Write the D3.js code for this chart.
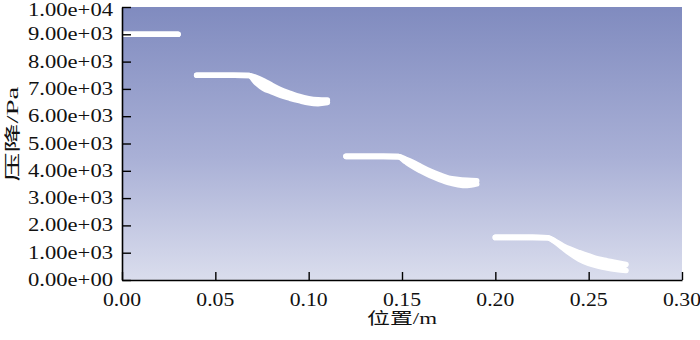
<!DOCTYPE html>
<html>
<head>
<meta charset="utf-8">
<script src="https://cdn.jsdelivr.net/npm/d3@7/dist/d3.min.js"></script>
<style>
  html, body { margin: 0; padding: 0; background: #ffffff; }
  svg { display: block; }
  text { font-family: "Liberation Serif", "DejaVu Serif", serif; fill: #111111; }
</style>
</head>
<body>
<svg id="chart" width="700" height="340"></svg>
<script>
// ---- data ----
const xTickValues = [0.00, 0.05, 0.10, 0.15, 0.20, 0.25, 0.30];
const xTickLabels = ["0.00", "0.05", "0.10", "0.15", "0.20", "0.25", "0.30"];
const yTickValues = [0, 1000, 2000, 3000, 4000, 5000, 6000, 7000, 8000, 9000, 10000];
const yTickLabels = ["0.00e+00", "1.00e+03", "2.00e+03", "3.00e+03", "4.00e+03", "5.00e+03",
                     "6.00e+03", "7.00e+03", "8.00e+03", "9.00e+03", "1.00e+04"];

const seg1X   = [0.00, 0.01, 0.02, 0.03];
const seg1Top = [9000, 9000, 9000, 9000];
const seg1Bot = [9000, 9000, 9000, 9000];

const seg2X   = [0.04, 0.05, 0.06, 0.068, 0.072, 0.076, 0.08, 0.085, 0.09, 0.095, 0.10, 0.105, 0.11];
const seg2Top = [7500, 7500, 7500, 7490, 7410, 7290, 7140, 6970, 6840, 6720, 6640, 6600, 6590];
const seg2Bot = [7500, 7500, 7500, 7490, 7220, 7010, 6900, 6760, 6660, 6570, 6490, 6460, 6500];

const seg3X   = [0.12, 0.13, 0.14, 0.148, 0.152, 0.156, 0.16, 0.165, 0.17, 0.175, 0.18, 0.185, 0.19];
const seg3Top = [4530, 4530, 4530, 4520, 4420, 4300, 4160, 3990, 3850, 3730, 3680, 3650, 3630];
const seg3Bot = [4530, 4530, 4530, 4520, 4330, 4150, 4000, 3830, 3690, 3570, 3490, 3460, 3520];

const seg4X   = [0.20, 0.21, 0.22, 0.228, 0.232, 0.236, 0.24, 0.245, 0.25, 0.255, 0.26, 0.265, 0.27];
const seg4Top = [1560, 1560, 1560, 1550, 1420, 1260, 1130, 1000, 880, 770, 700, 630, 570];
const seg4Bot = [1560, 1560, 1560, 1550, 1400, 1190, 980, 760, 610, 510, 440, 390, 350];

const xLabel = "位置/m";
const yLabel = "压降/Pa";

// ---- layout ----
const svg = d3.select("#chart");
const pLeft = 122, pRight = 682, pTop = 7, pBottom = 280;

const x = d3.scaleLinear().domain([0, 0.30]).range([pLeft, pRight]);
const y = d3.scaleLinear().domain([0, 10000]).range([pBottom, pTop]);

// background gradient
const defs = svg.append("defs");
const grad = defs.append("linearGradient").attr("id", "bg")
  .attr("x1", 0).attr("y1", 0).attr("x2", 0).attr("y2", 1);
grad.append("stop").attr("offset", "0%").attr("stop-color", "#808bbf");
grad.append("stop").attr("offset", "55%").attr("stop-color", "#a9b0d6");
grad.append("stop").attr("offset", "100%").attr("stop-color", "#dadded");

svg.append("rect")
  .attr("x", pLeft).attr("y", pTop)
  .attr("width", pRight - pLeft).attr("height", pBottom - pTop)
  .attr("fill", "url(#bg)");

// data bands
const segments = [
  [seg1X, seg1Top, seg1Bot],
  [seg2X, seg2Top, seg2Bot],
  [seg3X, seg3Top, seg3Bot],
  [seg4X, seg4Top, seg4Bot]
];

const area = d3.area()
  .x(d => x(d.x)).y0(d => y(d.lo)).y1(d => y(d.hi))
  .curve(d3.curveMonotoneX);
const lineHi = d3.line().x(d => x(d.x)).y(d => y(d.hi)).curve(d3.curveMonotoneX);
const lineLo = d3.line().x(d => x(d.x)).y(d => y(d.lo)).curve(d3.curveMonotoneX);

const gData = svg.append("g");
segments.forEach(([xs, hi, lo]) => {
  const pts = xs.map((v, i) => ({ x: v, hi: hi[i], lo: lo[i] }));
  gData.append("path").attr("d", area(pts)).attr("fill", "#ffffff")
    .attr("stroke", "#ffffff").attr("stroke-width", 1);
  [lineHi, lineLo].forEach(ln => {
    gData.append("path").attr("d", ln(pts))
      .attr("fill", "none").attr("stroke", "#ffffff")
      .attr("stroke-width", 5.6)
      .attr("stroke-linecap", "round").attr("stroke-linejoin", "round");
  });
});

// axes
const xAxis = d3.axisBottom(x).tickValues(xTickValues)
  .tickSizeInner(-8).tickSizeOuter(0).tickFormat("");
const yAxis = d3.axisLeft(y).tickValues(yTickValues)
  .tickSizeInner(-9).tickSizeOuter(0).tickFormat("");

const gx = svg.append("g").attr("transform", `translate(0,${pBottom})`).call(xAxis);
const gy = svg.append("g").attr("transform", `translate(${pLeft},0)`).call(yAxis);
[gx, gy].forEach(g => {
  g.select(".domain").attr("stroke", "#000").attr("stroke-width", 1.6);
  g.selectAll(".tick line").attr("stroke", "#000").attr("stroke-width", 1.4);
});

// tick labels
svg.append("g").selectAll("text").data(xTickValues).join("text")
  .attr("x", d => x(d)).attr("y", 306)
  .attr("text-anchor", "middle")
  .attr("font-size", 18)
  .attr("textLength", 38).attr("lengthAdjust", "spacingAndGlyphs")
  .text((d, i) => xTickLabels[i]);

svg.append("g").selectAll("text").data(yTickValues).join("text")
  .attr("x", 113).attr("y", d => Math.max(y(d) + 6, 16))
  .attr("text-anchor", "end")
  .attr("font-size", 18)
  .attr("textLength", 85).attr("lengthAdjust", "spacingAndGlyphs")
  .text((d, i) => yTickLabels[i]);

// axis titles
svg.append("text")
  .attr("x", (pLeft + pRight) / 2).attr("y", 324)
  .attr("text-anchor", "middle")
  .attr("font-size", 16)
  .attr("fill", "#111111")
  .attr("textLength", 70).attr("lengthAdjust", "spacingAndGlyphs")
  .style("font-family", "'Liberation Serif', 'Noto Sans CJK SC', serif")
  .text(xLabel);

svg.append("text")
  .attr("transform", `translate(18,134) rotate(-90)`)
  .attr("text-anchor", "middle")
  .attr("font-size", 16)
  .attr("fill", "#111111")
  .attr("textLength", 95).attr("lengthAdjust", "spacingAndGlyphs")
  .style("font-family", "'Liberation Serif', 'Noto Sans CJK SC', serif")
  .text(yLabel);
</script>
</body>
</html>
